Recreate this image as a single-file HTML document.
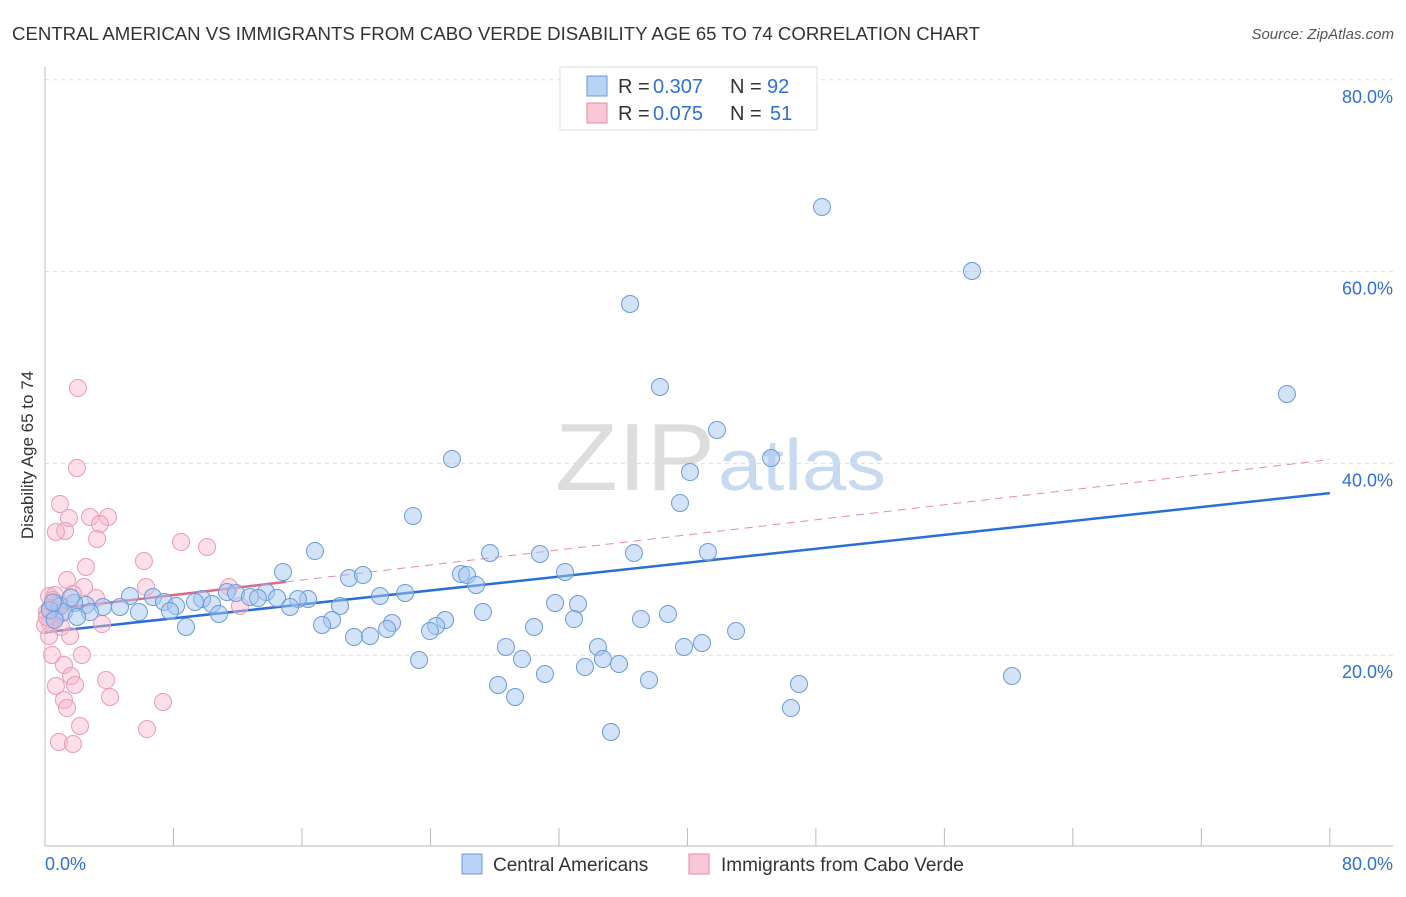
<!DOCTYPE html>
<html><head><meta charset="utf-8">
<style>
body{margin:0;background:#fff;font-family:"Liberation Sans",sans-serif;}
svg text{font-family:"Liberation Sans",sans-serif;}
</style></head>
<body>
<svg id="chart" width="1406" height="892">
<text x="12" y="40" font-size="18" fill="#333" textLength="968" lengthAdjust="spacingAndGlyphs">CENTRAL AMERICAN VS IMMIGRANTS FROM CABO VERDE DISABILITY AGE 65 TO 74 CORRELATION CHART</text>
<text x="1394" y="39" font-size="15" fill="#555" font-style="italic" text-anchor="end">Source: ZipAtlas.com</text>
<text x="555" y="490" font-size="96" fill="#ddd" textLength="160" lengthAdjust="spacingAndGlyphs" font-family="Liberation Serif">ZIP</text>
<text x="718" y="490" font-size="72" fill="#c8daf0" textLength="168" lengthAdjust="spacingAndGlyphs">atlas</text>
<g id="grid"></g><g id="axes"></g><g id="lines"></g><g id="pts"></g>
<text transform="translate(33,455) rotate(-90)" font-size="17" fill="#333" text-anchor="middle">Disability Age 65 to 74</text>
<g>
<rect x="560" y="67" width="257" height="63" fill="#fff" stroke="#ddd"/>
<rect x="587" y="76" width="20" height="20" fill="#b8d3f5" stroke="#6a9ad8"/>
<text x="618" y="93" font-size="20" fill="#333">R =</text><text x="653" y="93" font-size="20" fill="#2f6fd6">0.307</text>
<text x="730" y="93" font-size="20" fill="#333">N =</text><text x="767" y="93" font-size="20" fill="#2f6fd6">92</text>
<rect x="587" y="103" width="20" height="20" fill="#f9c7d6" stroke="#e88aa5"/>
<text x="618" y="120" font-size="20" fill="#333">R =</text><text x="653" y="120" font-size="20" fill="#2f6fd6">0.075</text>
<text x="730" y="120" font-size="20" fill="#333">N =</text><text x="770" y="120" font-size="20" fill="#2f6fd6">51</text>
</g>
<g>
<rect x="462" y="854" width="20" height="20" fill="#b8d3f5" stroke="#6a9ad8"/>
<text x="493" y="871" font-size="19" fill="#333">Central Americans</text>
<rect x="689" y="854" width="20" height="20" fill="#f9c7d6" stroke="#e88aa5"/>
<text x="721" y="871" font-size="19" fill="#333">Immigrants from Cabo Verde</text>
</g>
</svg>
<script>
const yTicks=[20,40,60,80];
const yTickLabels=["20.0%","40.0%","60.0%","80.0%"];
const xTickLabels=["0.0%","80.0%"];
const blueX=[48.38,57.72,36.43,77.33,38.29,41.84,25.34,45.21,40.16,22.91,39.54,16.81,27.71,30.82,36.67,41.28,14.82,18.93,19.80,25.90,26.28,32.38,26.84,22.42,20.86,5.29,6.72,11.33,11.89,13.76,14.45,16.38,15.75,12.76,13.26,9.78,10.40,7.41,8.16,9.34,18.37,15.26,4.67,3.61,2.55,1.81,0.93,1.18,2.80,5.85,7.78,10.83,31.76,33.19,27.27,38.79,37.11,32.94,17.87,17.25,21.61,24.91,24.35,23.97,21.30,30.45,8.78,43.03,19.24,20.24,28.70,34.43,39.79,40.91,34.74,23.29,29.70,35.74,33.62,31.13,37.61,60.21,46.95,28.21,29.27,46.45,35.24,0.3,0.6,1.6,2.0,0.5];
const blueY=[66.74,60.06,56.62,47.24,47.97,43.48,40.46,40.56,39.10,34.52,35.87,30.86,30.66,30.55,30.66,30.76,28.68,28.05,28.36,28.47,28.36,28.68,27.32,26.49,26.17,26.17,26.07,26.59,26.49,26.59,25.96,25.86,25.86,26.07,25.96,25.86,25.34,25.55,25.13,25.55,25.13,25.03,25.03,25.03,25.23,25.44,25.13,24.50,24.50,24.50,24.61,24.30,25.44,25.34,24.50,24.30,23.77,23.77,23.67,23.15,23.36,23.67,23.04,22.52,22.73,22.94,22.94,22.52,21.90,22.00,20.86,20.86,20.86,21.27,19.60,19.50,19.60,19.08,18.77,18.04,17.41,17.83,17.00,16.89,15.64,14.49,11.99,24.7,23.7,26.0,24.0,25.5];
const pinkX=[2.05,1.99,0.93,1.49,2.80,3.92,3.42,1.25,0.68,3.24,8.47,10.09,6.16,2.55,1.37,6.29,2.43,0.25,0.62,1.74,3.18,11.46,12.14,0.50,0.81,0.31,0.12,0.62,0.31,1.00,0.25,1.56,3.55,0.44,2.30,1.18,1.62,0.68,1.87,3.80,4.05,1.18,1.37,7.35,2.18,6.35,0.87,1.74,0.93,0,0.12];
const pinkY=[47.86,39.52,35.77,34.31,34.41,34.41,33.68,32.95,32.85,32.12,31.80,31.28,29.82,29.20,27.84,27.11,27.11,26.17,26.28,26.38,25.96,27.11,25.13,25.76,25.34,24.92,24.50,23.98,23.36,22.94,22.00,22.00,23.25,20.02,20.02,18.98,17.83,16.79,16.89,17.41,15.64,15.33,14.49,15.12,12.62,12.30,10.95,10.74,24.30,23.15,23.98];
const blueTrend=[22.4,36.9];
const pinkTrend=[24.7,40.4];
const NS="http://www.w3.org/2000/svg";
const sx=v=>45+v*16.06, sy=v=>847-v*9.59;
function mk(t,a,p){const e=document.createElementNS(NS,t);for(const k in a)e.setAttribute(k,a[k]);document.getElementById(p).appendChild(e);return e;}
yTicks.forEach((t,i)=>{
 const g=mk('line',{x1:45,x2:1393,y1:sy(t),y2:sy(t),stroke:'#ddd','stroke-dasharray':'4,4'},'grid');
 
 
 const l=mk('text',{x:1393,y:sy(t)+23,'font-size':18,fill:'#2f6fd6','text-anchor':'end'},'axes');
 l.textContent=yTickLabels[i];
 
 
});
mk('line',{x1:45,x2:45,y1:67,y2:846,stroke:'#bbb'},'axes');
mk('line',{x1:45,x2:1393,y1:846,y2:846,stroke:'#bbb'},'axes');
for(let i=0;i<=10;i++){const t=mk('line',{x1:sx(i*8),x2:sx(i*8),y1:828,y2:846,stroke:'#bbb'},'axes');
 
 }
[[0,'start'],[80,'end']].forEach(([v,a],i)=>{const l=mk('text',{x:i?1393:45,y:870,'font-size':18,fill:'#2f6fd6','text-anchor':a},'axes');l.textContent=xTickLabels[i];
 
 });
const bl=mk('line',{x1:sx(0),y1:sy(blueTrend[0]),x2:sx(80),y2:sy(blueTrend[1]),stroke:'#2a6fd8','stroke-width':2.5},'lines');


const ps=(pinkTrend[1]-pinkTrend[0])/80;
const pd=mk('line',{x1:sx(15),y1:sy(pinkTrend[0]+15*ps),x2:sx(80),y2:sy(pinkTrend[1]),stroke:'#e88aa5','stroke-width':1,'stroke-dasharray':'8,6'},'lines');


const pl=mk('line',{x1:sx(0),y1:sy(pinkTrend[0]),x2:sx(15),y2:sy(pinkTrend[0]+15*ps),stroke:'#e0658a','stroke-width':2.5},'lines');


pinkX.forEach((x,i)=>{const c=mk('circle',{cx:sx(x),cy:sy(pinkY[i]),r:8.5,fill:'rgba(248,185,205,0.45)',stroke:'#eb9ab2','stroke-width':1},'pts');
 
 });
blueX.forEach((x,i)=>{const c=mk('circle',{cx:sx(x),cy:sy(blueY[i]),r:8.5,fill:'rgba(165,198,240,0.5)',stroke:'#6b9bdc','stroke-width':1},'pts');
 
 });
</script>
</body></html>
